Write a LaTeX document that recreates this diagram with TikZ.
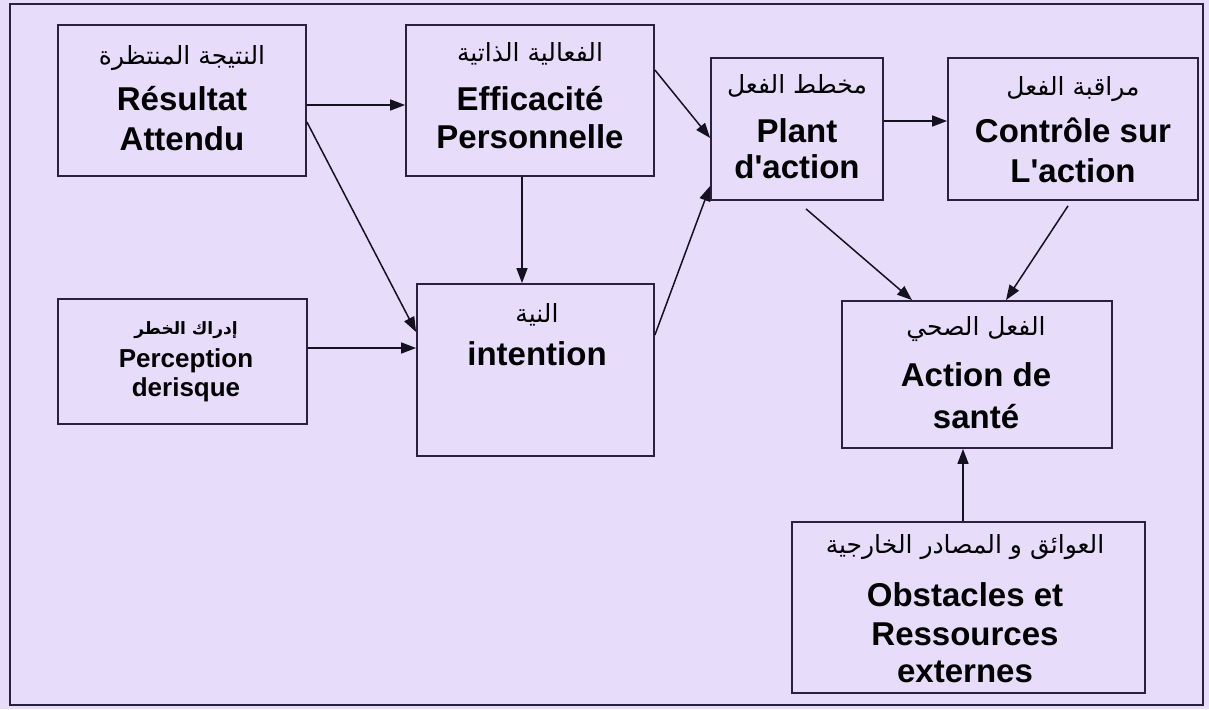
\documentclass[tikz,border=0pt]{standalone}
\usepackage{fontspec}
\setmainfont{Liberation Sans}[Ligatures=TeXOff]
\newfontfamily\arfont[Script=Arabic]{DejaVu Sans}
\TeXXeTstate=1
\usetikzlibrary{arrows.meta}
\definecolor{bgpaper}{RGB}{231,221,251}
\definecolor{boxline}{RGB}{40,34,62}
\definecolor{arrowline}{RGB}{20,18,30}
\tikzset{
  box/.style={draw=boxline, line width=1.8pt, rectangle, inner sep=0pt},
  lat/.style={font=\bfseries\fontsize{33}{40}\selectfont, anchor=base, inner sep=0pt},
  latsm/.style={font=\bfseries\fontsize{26}{30}\selectfont, anchor=base, inner sep=0pt},
  arab/.style={font=\arfont\fontsize{25}{30}\selectfont, anchor=base, inner sep=0pt},
  arabbold/.style={font=\arfont\bfseries\fontsize{17}{20}\selectfont, anchor=base, inner sep=0pt},
  conn/.style={line width=1.5pt, draw=arrowline, -{Triangle[length=15pt,width=11pt]}},
}
\begin{document}
\begin{tikzpicture}[x=1pt, y=-1pt]
  % paper and outer frame
  \fill[bgpaper] (0,0) rectangle (1209,709);
  \useasboundingbox (0,0) rectangle (1209,709);
  \draw[boxline, line width=1.8pt] (10,4) rectangle (1203,705);

  % boxes
  \node[box, minimum width=248pt, minimum height=151pt] (R)  at (182,100.5) {};
  \node[box, minimum width=248pt, minimum height=151pt] (E)  at (530,100.5) {};
  \node[box, minimum width=172pt, minimum height=142pt] (P)  at (797,129) {};
  \node[box, minimum width=250pt, minimum height=142pt] (C)  at (1073,129) {};
  \node[box, minimum width=249pt, minimum height=125pt] (Pe) at (182.5,361.5) {};
  \node[box, minimum width=237pt, minimum height=172pt] (I)  at (535.5,370) {};
  \node[box, minimum width=270pt, minimum height=147pt] (A)  at (977,374.5) {};
  \node[box, minimum width=353pt, minimum height=171pt] (O)  at (968.5,607.5) {};

  % labels: Résultat attendu
  \node[arab] (Ra) at (182,64) {\beginR النتيجة المنتظرة\endR};
  \node[lat] (R1) at (182,110) {Résultat};
  \node[lat] (R2) at (182,150) {Attendu};
  % Efficacité personnelle
  \node[arab] (Ea) at (530,62) {\beginR الفعالية الذاتية\endR};
  \node[lat] (E1) at (530,110) {Efficacité};
  \node[lat] (E2) at (530,148) {Personnelle};
  % Plan d'action
  \node[arab] (Pa) at (797,93) {\beginR مخطط الفعل\endR};
  \node[lat] (P1) at (797,142) {Plant};
  \node[lat] (P2) at (797,178) {d'action};
  % Contrôle
  \node[arab] (Ca) at (1073,95) {\beginR مراقبة الفعل\endR};
  \node[lat] (C1) at (1073,142) {Contrôle sur};
  \node[lat] (C2) at (1073,182) {L'action};
  % Perception du risque
  \node[arabbold] (Pea) at (186,334) {\beginR إدراك الخطر\endR};
  \node[latsm] (Pe1) at (186,367) {Perception};
  \node[latsm] (Pe2) at (186,396) {derisque};
  % Intention
  \node[arab] (Ia) at (537,322) {\beginR النية\endR};
  \node[lat] (I1) at (537,365) {intention};
  % Action de santé
  \node[arab] (Aa) at (976,335) {\beginR الفعل الصحي\endR};
  \node[lat] (A1) at (976,386) {Action de};
  \node[lat] (A2) at (976,428) {santé};
  % Obstacles et ressources
  \node[arab] (Oa) at (965,553) {\beginR العوائق و المصادر الخارجية\endR};
  \node[lat] (O1) at (965,606) {Obstacles et};
  \node[lat] (O2) at (965,645) {Ressources};
  \node[lat] (O3) at (965,682) {externes};

  % connectors
  \draw[conn] ([yshift=-4.5pt]R.east) -- ([yshift=-4.5pt]E.west);
  \draw[conn] ([yshift=-21.5pt]R.east) -- ([yshift=38pt]I.west);
  \draw[conn] ([yshift=13.5pt]Pe.east) -- ([yshift=22pt]I.west);
  \draw[conn] ([xshift=-8pt]E.south) -- ([xshift=-13.5pt]I.north);
  \draw[conn] ([yshift=30.5pt]E.east) -- ([yshift=-9pt]P.west);
  \draw[conn] ([yshift=35pt]I.east) -- ([yshift=-57pt]P.west);
  \draw[conn] ([yshift=8pt]P.east) -- ([yshift=8pt]C.west);
  \draw[conn] ([xshift=9pt,yshift=-8pt]P.south) -- ([xshift=-65pt]A.north);
  \draw[conn] ([xshift=-5pt,yshift=-5pt]C.south) -- ([xshift=29pt]A.north);
  \draw[conn] ([xshift=-5.5pt]O.north) -- ([xshift=-14pt]A.south);
\end{tikzpicture}
\end{document}
